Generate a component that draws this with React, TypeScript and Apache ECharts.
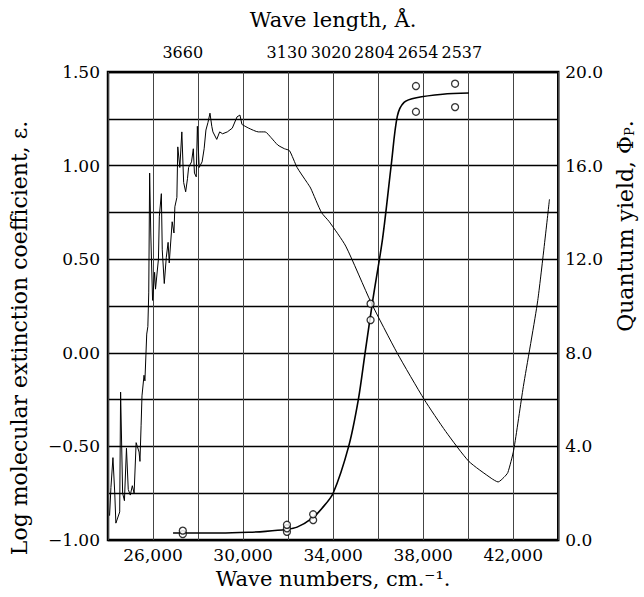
import { useEffect, useRef } from 'react';
import * as echarts from 'echarts';

// Absorption spectrum: wave number (cm^-1) and log molar extinction coefficient
const specWave = [24070, 24130, 24220, 24300, 24350, 24520, 24560, 24650, 24730, 24820, 24900, 24990, 25080, 25160, 25250, 25380, 25420, 25470, 25510, 25600, 25640, 25720, 25770, 25810, 25850, 25900, 25980, 26070, 26110, 26240, 26280, 26370, 26410, 26500, 26590, 26670, 26720, 26850, 26930, 26970, 27060, 27100, 27190, 27280, 27360, 27450, 27530, 27580, 27710, 27790, 27840, 27920, 27970, 28050, 28180, 28270, 28350, 28440, 28530, 28610, 28660, 28830, 28960, 29090, 29300, 29520, 29730, 29860, 29950, 30250, 30680, 30980, 31240, 31540, 31840, 32060, 32400, 32840, 33000, 33480, 33830, 34560, 35680, 36840, 38050, 39000, 40030, 41020, 41330, 41590, 41760, 42020, 42450, 43090, 43610];
const specLogE = [-0.87, -0.72, -0.56, -0.75, -0.91, -0.85, -0.21, -0.75, -0.79, -0.51, -0.73, -0.76, -0.71, -0.75, -0.48, -0.53, -0.58, -0.39, -0.23, -0.12, -0.15, 0.1, 0.14, 0.32, 0.96, 0.64, 0.28, 0.43, 0.34, 0.5, 0.73, 0.85, 0.55, 0.37, 0.51, 0.59, 0.48, 0.7, 0.64, 0.78, 0.83, 1.1, 0.99, 1.18, 0.91, 0.86, 0.93, 0.99, 1.02, 1.09, 0.96, 0.94, 1.21, 0.99, 1.02, 1.09, 1.19, 1.23, 1.28, 1.21, 1.18, 1.14, 1.18, 1.17, 1.18, 1.2, 1.26, 1.27, 1.22, 1.2, 1.18, 1.18, 1.15, 1.11, 1.09, 1.08, 0.99, 0.91, 0.88, 0.75, 0.7, 0.57, 0.27, 0.0, -0.25, -0.42, -0.58, -0.67, -0.69, -0.665, -0.64, -0.52, -0.18, 0.28, 0.82];
const specSmoothFrom = 29950; // the spectrum is drawn smooth from this wave number on

// Quantum yield curve
const qyWave = [26890, 28000, 29000, 30250, 31000, 31890, 32400, 33090, 33500, 34000, 34690, 35120, 35420, 35770, 36200, 36590, 36850, 37150, 37700, 38870, 40030];
const qyYield = [0.3, 0.3, 0.3, 0.33, 0.37, 0.45, 0.55, 0.95, 1.35, 2.0, 4.0, 6.0, 8.0, 10.3, 12.9, 16.1, 18.1, 18.7, 18.9, 19.05, 19.1];

// Measured quantum yields (circles), by wavelength in Å
const pointWavelength = [3660, 3660, 3130, 3130, 3130, 3020, 3020, 2804, 2804, 2654, 2654, 2537, 2537];
const pointYield = [0.25, 0.4, 0.35, 0.5, 0.65, 0.85, 1.1, 9.4, 10.1, 18.3, 19.4, 18.5, 19.5];

// Axis ticks
const topWavelengths = [3660, 3130, 3020, 2804, 2654, 2537];
const waveNumberLabels = [26000, 30000, 34000, 38000, 42000];
const logELabels = [-1, -0.5, 0, 0.5, 1, 1.5];
const yieldLabels = [0, 4, 8, 12, 16, 20];

const X_MIN = 24000;
const X_MAX = 44000;

const W = 644;
const H = 597;
const GRID = { left: 105, right: 75, top: 72, bottom: 57 };
const FONT = 'DejaVu Serif';
const TICK_FS = 17;
const TOP_FS = 16;
const TITLE_FS = 21;
const SIDE_TITLE_FS = 22;

function fmtThousands(v: number) {
  return String(Math.round(v)).replace(/\B(?=(\d{3})+(?!\d))/g, ',');
}
function fmtSigned(v: number, d: number) {
  return (v < 0 ? '\u2212' : '') + Math.abs(v).toFixed(d);
}

export default function App() {
  const ref = useRef<HTMLDivElement>(null);

  useEffect(() => {
    if (!ref.current) return;
    const chart = echarts.init(ref.current, undefined, { renderer: 'svg' });

    const topWaveNumbers = topWavelengths.map((l) => 1e8 / l);
    // push crowded top labels apart (label layout only)
    const gridW = W - GRID.left - GRID.right;
    const pxPer = gridW / (X_MAX - X_MIN);
    const minGap = 45;
    const shifts: number[] = [];
    let prev = -Infinity;
    topWaveNumbers.forEach((n) => {
      const p = (n - X_MIN) * pxPer;
      const q = Math.max(p, prev + minGap);
      shifts.push(q - p);
      prev = q;
    });
    const topRich: Record<string, any> = {};
    shifts.forEach((s, i) => {
      topRich['s' + i] = {
        fontFamily: FONT,
        fontSize: TOP_FS,
        color: '#000',
        padding: [0, 0, 0, 2 * s],
      };
    });

    const specPairs = specWave.map((w, i) => [w, specLogE[i]]);
    const specRough = specPairs.filter((p) => p[0] <= specSmoothFrom);
    const specSmooth = specPairs.filter((p) => p[0] >= specSmoothFrom);
    const qyPairs = qyWave.map((w, i) => [w, qyYield[i]]);
    const points = pointWavelength.map((l, i) => [1e8 / l, pointYield[i]]);

    const labelStyle = { fontFamily: FONT, fontSize: TICK_FS, color: '#000' };
    const nameStyle = { fontFamily: FONT, fontSize: TITLE_FS, color: '#000' };
    const sideNameStyle = { fontFamily: FONT, fontSize: SIDE_TITLE_FS, color: '#000' };

    chart.setOption({
      animation: false,
      backgroundColor: '#fff',
      textStyle: { fontFamily: FONT },
      grid: {
        ...GRID,
        show: true,
        borderColor: '#000',
        borderWidth: 2.5,
        backgroundColor: 'transparent',
      },
      xAxis: [
        {
          type: 'value',
          position: 'bottom',
          min: X_MIN,
          max: X_MAX,
          interval: 2000,
          axisLine: { show: false },
          axisTick: { show: false },
          splitLine: { show: true, lineStyle: { color: '#444', width: 1 } },
          axisLabel: {
            ...labelStyle,
            customValues: waveNumberLabels,
            formatter: (v: number) => fmtThousands(v),
            margin: 6,
          },
          name: 'Wave numbers, cm.\u207B\u00B9.',
          nameLocation: 'middle',
          nameGap: 28,
          nameTextStyle: nameStyle,
        },
        {
          type: 'value',
          position: 'top',
          min: X_MIN,
          max: X_MAX,
          axisLine: { show: false },
          axisTick: { show: false },
          splitLine: { show: false },
          axisLabel: {
            fontFamily: FONT,
            fontSize: TOP_FS,
            color: '#000',
            customValues: topWaveNumbers,
            margin: 12,
            rich: topRich,
            formatter: (v: number) => {
              const i = topWaveNumbers.findIndex((n) => Math.abs(n - v) < 0.5);
              return i < 0 ? '' : `{s${i}|${topWavelengths[i]}}`;
            },
          },
          name: 'Wave length, \u00C5.',
          nameLocation: 'middle',
          nameGap: 42,
          nameTextStyle: nameStyle,
        },
      ],
      yAxis: [
        {
          type: 'value',
          position: 'left',
          min: -1,
          max: 1.5,
          interval: 0.25,
          axisLine: { show: false },
          axisTick: { show: false },
          splitLine: { show: true, lineStyle: { color: '#000', width: 1.3 } },
          axisLabel: {
            ...labelStyle,
            customValues: logELabels,
            formatter: (v: number) => fmtSigned(v, 2),
            margin: 8,
          },
          name: 'Log molecular extinction coefficient, \u03B5.',
          nameLocation: 'middle',
          nameRotate: 90,
          nameGap: 78,
          nameTextStyle: { ...sideNameStyle, padding: [0, 64, 0, 0] },
        },
        {
          type: 'value',
          position: 'right',
          min: 0,
          max: 20,
          interval: 2,
          axisLine: { show: false },
          axisTick: { show: false },
          splitLine: { show: false },
          axisLabel: {
            ...labelStyle,
            customValues: yieldLabels,
            formatter: (v: number) => v.toFixed(1),
            margin: 7,
          },
          name: 'Quantum yield, \u03A6{sub|P}.',
          nameLocation: 'middle',
          nameRotate: 90,
          nameGap: 52,
          nameTextStyle: {
            ...sideNameStyle,
            padding: [0, 0, 0, 160],
            rich: {
              sub: { fontFamily: FONT, fontSize: 13, color: '#000', verticalAlign: 'bottom', padding: [8, 0, 0, 0] },
            },
          },
        },
      ],
      series: [
        {
          type: 'line',
          name: 'log \u03B5',
          xAxisIndex: 0,
          yAxisIndex: 0,
          data: specRough,
          showSymbol: false,
          smooth: false,
          lineStyle: { color: '#000', width: 1 },
        },
        {
          type: 'line',
          name: 'log \u03B5 (smooth)',
          xAxisIndex: 0,
          yAxisIndex: 0,
          data: specSmooth,
          showSymbol: false,
          smooth: 0.2,
          lineStyle: { color: '#000', width: 1 },
        },
        {
          type: 'line',
          name: 'Quantum yield',
          xAxisIndex: 0,
          yAxisIndex: 1,
          data: qyPairs,
          showSymbol: false,
          smooth: 0.3,
          lineStyle: { color: '#000', width: 1.6 },
        },
        {
          type: 'scatter',
          name: 'Measured',
          xAxisIndex: 0,
          yAxisIndex: 1,
          data: points,
          symbol: 'circle',
          symbolSize: 7,
          itemStyle: { color: '#fff', borderColor: '#000', borderWidth: 1.3 },
          z: 5,
        },
      ],
    });

    return () => chart.dispose();
  }, []);

  return (
    <div
      ref={ref}
      style={{ position: 'absolute', left: 0, top: 0, width: W, height: H, background: '#fff' }}
    />
  );
}
